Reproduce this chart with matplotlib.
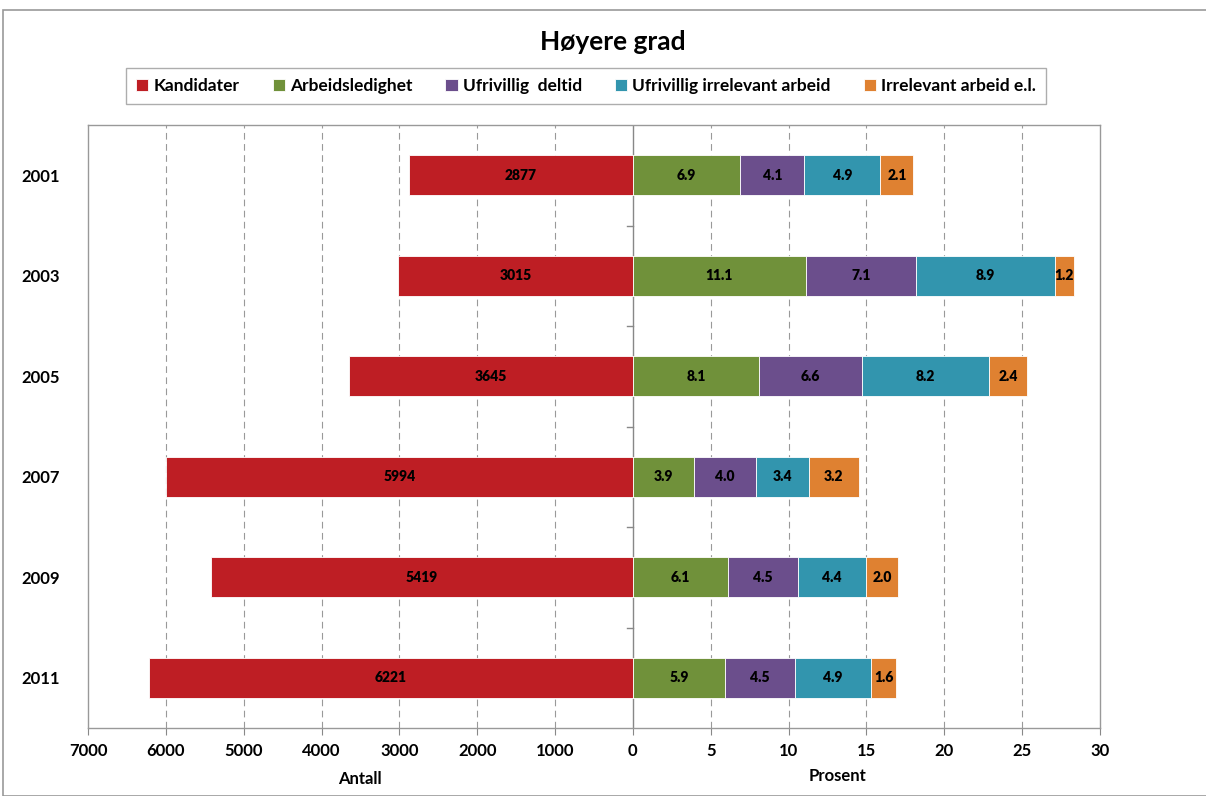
import numpy as np
import matplotlib.pyplot as plt

plt.rcParams['font.family'] = ['Lato', 'DejaVu Sans']

# data
years = ['2001', '2003', '2005', '2007', '2009', '2011']
kandidater = [2877, 3015, 3645, 5994, 5419, 6221]
arbeidsledighet = [6.9, 11.1, 8.1, 3.9, 6.1, 5.9]
deltid = [4.1, 7.1, 6.6, 4.0, 4.5, 4.5]
ufr_irrelevant = [4.9, 8.9, 8.2, 3.4, 4.4, 4.9]
irrelevant = [2.1, 1.2, 2.4, 3.2, 2.0, 1.6]

antall_ticks = [7000, 6000, 5000, 4000, 3000, 2000, 1000, 0]
prosent_ticks = [5, 10, 15, 20, 25, 30]

SCALE = 200.0  # 1000 kandidater = 5 prosent on the shared axis

colors = {
    'Kandidater': '#BE1E24',
    'Arbeidsledighet': '#70913A',
    'Ufrivillig  deltid': '#6B4E8C',
    'Ufrivillig irrelevant arbeid': '#3295AE',
    'Irrelevant arbeid e.l.': '#DF8131',
}

fig = plt.figure(figsize=(12.06, 7.96), dpi=100)
ax = fig.add_axes([88 / 1206, 1 - 728 / 796, 1012 / 1206, 603 / 796])

y = np.arange(len(years))
h = 0.4

# venstre side: antall kandidater
left_vals = -np.array(kandidater) / SCALE
ax.barh(y, left_vals, height=h, color=colors['Kandidater'], edgecolor='white',
        linewidth=0.6, label='Kandidater', zorder=3)
for yi, v, k in zip(y, left_vals, kandidater):
    ax.text(v / 2, yi, str(k), ha='center', va='center', fontsize=10,
            fontweight='heavy', zorder=4)

# høyre side: prosent, stablet
series = [('Arbeidsledighet', arbeidsledighet),
          ('Ufrivillig  deltid', deltid),
          ('Ufrivillig irrelevant arbeid', ufr_irrelevant),
          ('Irrelevant arbeid e.l.', irrelevant)]
base = np.zeros(len(years))
for name, vals in series:
    vals = np.array(vals)
    ax.barh(y, vals, left=base, height=h, color=colors[name], edgecolor='white',
            linewidth=0.6, label=name, zorder=3)
    for yi, b, v in zip(y, base, vals):
        ax.text(b + v / 2, yi, f'{v:.1f}', ha='center', va='center',
                fontsize=10, fontweight='heavy', zorder=4)
    base += vals

ax.set_xlim(-35, 30)
ax.set_ylim(len(years) - 0.5, -0.5)

# gridlines
for gx in list(range(-30, 0, 5)) + list(range(5, 30, 5)):
    ax.axvline(gx, color='#999999', linestyle=(0, (6, 4)), linewidth=0.8, zorder=1)

# midtre akse med tick marks mellom kategoriene
ax.axvline(0, color='#888888', linewidth=1.0, zorder=2)
for b in np.arange(0.5, len(years) - 0.5, 1):
    ax.plot([-0.4, 0], [b, b], color='#888888', linewidth=1.0, zorder=2)

# x ticks
xt = [-a / SCALE for a in antall_ticks] + prosent_ticks
xl = [str(a) for a in antall_ticks] + [str(p) for p in prosent_ticks]
ax.set_xticks(xt)
ax.set_xticklabels(xl, fontsize=12, fontweight='bold')
ax.tick_params(axis='x', length=5, color='#888888', pad=6)

ax.set_yticks(y)
ax.set_yticklabels(years, fontsize=12, fontweight='bold')
ax.tick_params(axis='y', length=0, pad=20)

for s in ax.spines.values():
    s.set_color('#999999')
    s.set_linewidth(1.0)

fig.text(360 / 1206, 1 - 779 / 796, 'Antall', ha='center', va='center',
         fontsize=12, fontweight='bold')
fig.text(838 / 1206, 1 - 776 / 796, 'Prosent', ha='center', va='center',
         fontsize=12, fontweight='bold')

fig.text(613 / 1206, 1 - 42 / 796, 'Høyere grad', ha='center', va='center',
         fontsize=19, fontweight='bold')

leg = fig.legend(loc='center', bbox_to_anchor=(586 / 1206, 1 - 86 / 796), ncol=5,
                 frameon=True, fancybox=False, edgecolor='#999999',
                 prop={'size': 12.5, 'weight': 'bold'}, handlelength=0.7,
                 handleheight=0.7, handletextpad=0.3, columnspacing=1.9,
                 borderpad=0.6)

# ytre ramme
fig.add_artist(plt.Rectangle((3 / 1206, 0.0), 1.0, 1 - 10 / 796, transform=fig.transFigure,
                             fill=False, edgecolor='#999999', linewidth=1.2))

fig.savefig('out.png', dpi=100)
